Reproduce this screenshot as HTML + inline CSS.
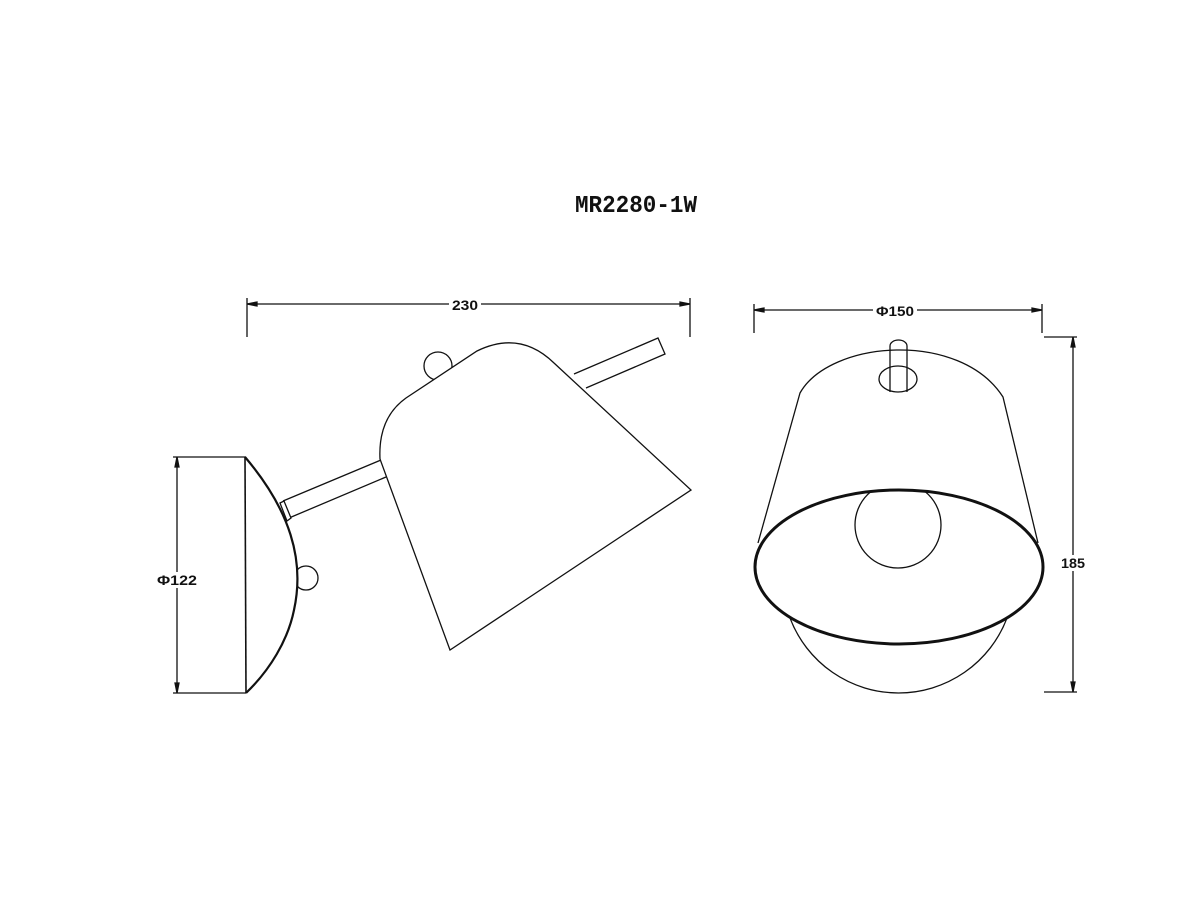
<!DOCTYPE html>
<html><head><meta charset="utf-8"><style>html,body{margin:0;padding:0;background:#fff}svg{display:block}</style></head>
<body>
<svg width="1200" height="900" viewBox="0 0 1200 900" xmlns="http://www.w3.org/2000/svg" font-family="Liberation Serif, serif" font-weight="bold">
<defs>
<clipPath id="inEll"><ellipse cx="899" cy="567" rx="144" ry="77"/></clipPath>
</defs>
<rect width="1200" height="900" fill="#fff"/>
<text x="575" y="212" font-size="24" font-family="Liberation Mono, monospace" textLength="122" lengthAdjust="spacingAndGlyphs" fill="#111">MR2280-1W</text>

<g stroke="#111" fill="none" stroke-width="1.3">
<!-- 230 dim -->
<line x1="247" y1="304" x2="690" y2="304"/>
<line x1="247" y1="298" x2="247" y2="337"/>
<line x1="690" y1="298" x2="690" y2="337"/>
<path d="M247 304 l10 -2 v4 z M690 304 l-10 -2 v4 z" fill="#111"/>
<!-- Φ122 dim -->
<line x1="177" y1="457" x2="177" y2="693"/>
<line x1="173" y1="457" x2="246" y2="457"/>
<line x1="173" y1="693" x2="246" y2="693"/>
<path d="M177 457 l-2 10 h4 z M177 693 l-2 -10 h4 z" fill="#111"/>

<!-- plate knob -->
<circle cx="306" cy="578" r="12" fill="#fff"/>
<!-- plate -->
<path d="M245 457 C290 510 305 560 294 610 C288 640 270 670 246 693" stroke-width="2.2" fill="#fff"/>
<line x1="245" y1="457" x2="246" y2="693" stroke-width="1.6"/>
<!-- front arm -->
<line x1="283" y1="501" x2="381" y2="460"/>
<line x1="289" y1="518" x2="386" y2="477"/>
<path d="M280 503 l4 -2 l7 17 l-4 3 z" fill="#fff"/>
<!-- rear rod -->
<path d="M574 374 L658 338 L665 354 L586 388"/>
<!-- shade knob -->
<circle cx="438" cy="366" r="14" fill="#fff"/>
<!-- shade -->
<path d="M380 459 L450 650 L691 490 L554 363 Q520 330 477 351 L406 398 Q378 418 380 459 Z" fill="#fff"/>

<!-- right view -->
<line x1="754" y1="310" x2="1042" y2="310"/>
<line x1="754" y1="304" x2="754" y2="333"/>
<line x1="1042" y1="304" x2="1042" y2="333"/>
<path d="M754 310 l10 -2 v4 z M1042 310 l-10 -2 v4 z" fill="#111"/>
<line x1="1073" y1="337" x2="1073" y2="692"/>
<line x1="1044" y1="337" x2="1077" y2="337"/>
<line x1="1044" y1="692" x2="1077" y2="692"/>
<path d="M1073 337 l-2 10 h4 z M1073 692 l-2 -10 h4 z" fill="#111"/>

<path d="M790 618 A116 116 0 0 0 1007 618"/>
<path d="M758 543 L800 393 C830 340 960 330 1003 397 L1038 543"/>
<ellipse cx="898" cy="379" rx="19" ry="13"/>
<path d="M890 392 V346 A8.5 6 0 0 1 907 346 V392"/>
<circle cx="898" cy="525" r="43" clip-path="url(#inEll)"/>
<ellipse cx="899" cy="567" rx="144" ry="77" stroke-width="3"/>
</g>

<g font-family="Liberation Sans, sans-serif" font-size="14" fill="#111">
<rect x="449" y="296" width="32" height="16" fill="#fff"/>
<text x="465" y="310" text-anchor="middle" textLength="26" lengthAdjust="spacingAndGlyphs">230</text>
<rect x="157" y="572" width="40" height="16" fill="#fff"/>
<text x="157" y="585" textLength="40" lengthAdjust="spacingAndGlyphs">Φ122</text>
<rect x="873" y="302" width="44" height="16" fill="#fff"/>
<text x="876" y="316" textLength="38" lengthAdjust="spacingAndGlyphs">Φ150</text>
<rect x="1060" y="555" width="26" height="16" fill="#fff"/>
<text x="1073" y="568" text-anchor="middle" textLength="24" lengthAdjust="spacingAndGlyphs">185</text>
</g>
</svg>
</body></html>
